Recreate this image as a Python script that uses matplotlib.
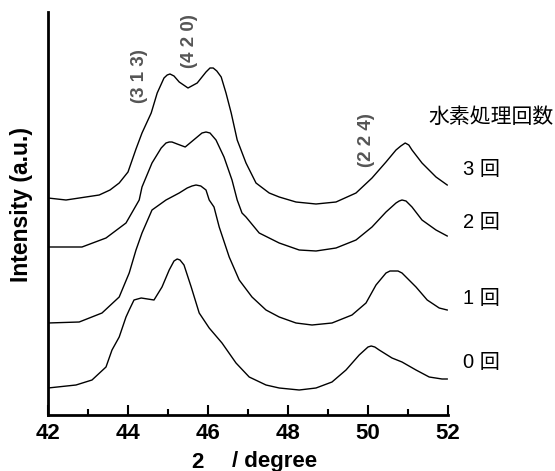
import matplotlib
matplotlib.use("Agg")
import matplotlib.pyplot as plt
from matplotlib.ticker import MultipleLocator

# 2theta (degree) and intensity (a.u.) for each hydrogen-treatment count
x0 = [42.00, 42.70, 43.10, 43.45, 43.60, 43.78, 43.95, 44.03, 44.15, 44.33, 44.65, 44.85,
      45.03, 45.15, 45.23, 45.30, 45.40, 45.58, 45.78, 46.03, 46.35, 46.70, 47.03, 47.45,
      47.78, 48.28, 48.70, 49.10, 49.45, 49.78, 50.00, 50.08, 50.17, 50.28, 50.60, 50.85,
      51.20, 51.53, 51.85, 51.98]
y0 = [29, 32, 37, 50, 67, 80, 100, 107, 117, 119, 117, 130,
      147, 156, 158, 157, 152, 130, 104, 89, 74, 54, 40, 32,
      29, 27, 29, 35, 47, 62, 70, 71, 70, 67, 59, 55,
      47, 40, 38, 38]

x1 = [42.00, 42.78, 43.35, 43.78, 44.03, 44.20, 44.35, 44.60, 44.95, 45.28, 45.48, 45.60,
      45.70, 45.82, 45.95, 46.03, 46.15, 46.28, 46.53, 46.78, 47.10, 47.45, 47.78, 48.20,
      48.60, 49.10, 49.60, 49.95, 50.20, 50.45, 50.55, 50.65, 50.75, 50.85, 51.20, 51.48,
      51.78, 51.98]
y1 = [94, 95, 104, 120, 144, 167, 184, 207, 217, 224, 229, 231,
      232, 231, 227, 217, 210, 190, 160, 137, 120, 107, 100, 94,
      92, 94, 102, 114, 132, 144, 146, 146, 146, 144, 130, 117,
      109, 107]

x2 = [42.00, 42.85, 43.45, 43.95, 44.28, 44.35, 44.60, 44.83, 44.95, 45.03, 45.10, 45.23,
      45.43, 45.70, 45.85, 45.95, 46.05, 46.20, 46.40, 46.60, 46.73, 46.85, 46.95, 47.28,
      47.78, 48.28, 48.70, 49.20, 49.70, 50.10, 50.45, 50.70, 50.78, 50.85, 50.95, 51.10,
      51.35, 51.70, 51.98]
y2 = [170, 170, 179, 194, 217, 230, 254, 269, 274, 275, 275, 273,
      270, 279, 284, 285, 284, 277, 260, 237, 217, 204, 200, 184,
      174, 167, 166, 169, 177, 190, 205, 214, 216, 217, 216, 210,
      197, 187, 181]

x3 = [42.00, 42.45, 43.28, 43.55, 43.78, 44.00, 44.20, 44.35, 44.58, 44.73, 44.90, 44.98,
      45.05, 45.15, 45.28, 45.50, 45.73, 45.95, 46.05, 46.13, 46.22, 46.33, 46.45, 46.58,
      46.73, 46.95, 47.20, 47.53, 47.78, 48.20, 48.70, 49.20, 49.70, 50.10, 50.45, 50.70,
      50.82, 50.93, 51.02, 51.10, 51.35, 51.70, 51.98]
y3 = [219, 217, 222, 227, 234, 245, 268, 284, 304, 324, 339, 342,
      343, 341, 335, 329, 334, 345, 349, 349, 346, 340, 324, 304,
      277, 254, 234, 224, 220, 215, 213, 215, 224, 239, 255, 267,
      271, 274, 272, 267, 254, 240, 232]

series_x = [x0, x1, x2, x3]
series_y = [y0, y1, y2, y3]
series_labels = ["0 回", "1 回", "2 回", "3 回"]
series_label_py = [362, 298, 222, 170]  # pixel y of the label centre

peak_labels = ["(3 1 3)", "(4 2 0)", "(2 2 4)"]
peak_label_px = [(139.5, 76), (190, 41.5), (366.5, 140)]

legend_title = "水素処理回数"
xticks = [42, 44, 46, 48, 50, 52]

W, H = 555, 471
fig = plt.figure(figsize=(W / 100, H / 100), dpi=100)
left, right, bottom, top = 48, 448, 415, 12
ax = fig.add_axes([left / W, 1 - bottom / H, (right - left) / W, (bottom - top) / H])

for xs, ys in zip(series_x, series_y):
    ax.plot(xs, ys, color="black", lw=1.0)

ax.set_xlim(42, 52)
ax.set_ylim(2, 405)
ax.spines["top"].set_visible(False)
ax.spines["right"].set_visible(False)
ax.spines["left"].set_linewidth(2)
ax.spines["bottom"].set_linewidth(2)
ax.set_yticks([])
ax.set_xticks(xticks)
ax.xaxis.set_minor_locator(MultipleLocator(1))
ax.tick_params(axis="x", which="major", direction="in", length=7, width=1.5, pad=6)
ax.tick_params(axis="x", which="minor", direction="in", length=4, width=1.5)
for lab in ax.get_xticklabels():
    lab.set_fontfamily("Liberation Sans")
    lab.set_fontweight("bold")
    lab.set_fontsize(16)

def fx(px):
    return px / W

def fy(py):
    return 1 - py / H

cjk = ["Liberation Sans", "Noto Sans CJK JP"]

fig.text(fx(197), fy(462), "2", ha="center", va="center", fontsize=16,
         fontweight="bold", family="Liberation Sans")
fig.text(fx(232), fy(462), "/ degree", ha="left", va="center", fontsize=16,
         fontweight="bold", family="Liberation Sans")
fig.text(fx(22), fy(204), "Intensity (a.u.)", ha="center", va="center", rotation=90,
         fontsize=16.5, fontweight="bold", family="Liberation Sans")

for txt, (px, py) in zip(peak_labels, peak_label_px):
    fig.text(fx(px), fy(py), txt, ha="center", va="center", rotation=90,
             fontsize=13.5, color="#555555", fontweight="bold", family="Liberation Sans")

fig.text(fx(428), fy(117), legend_title, ha="left", va="center", fontsize=15,
         family=["Noto Sans CJK JP", "DejaVu Sans"])
for txt, py in zip(series_labels, series_label_py):
    fig.text(fx(463), fy(py), txt, ha="left", va="center", fontsize=14.5, family=cjk)

fig.savefig("out.png", dpi=100)
